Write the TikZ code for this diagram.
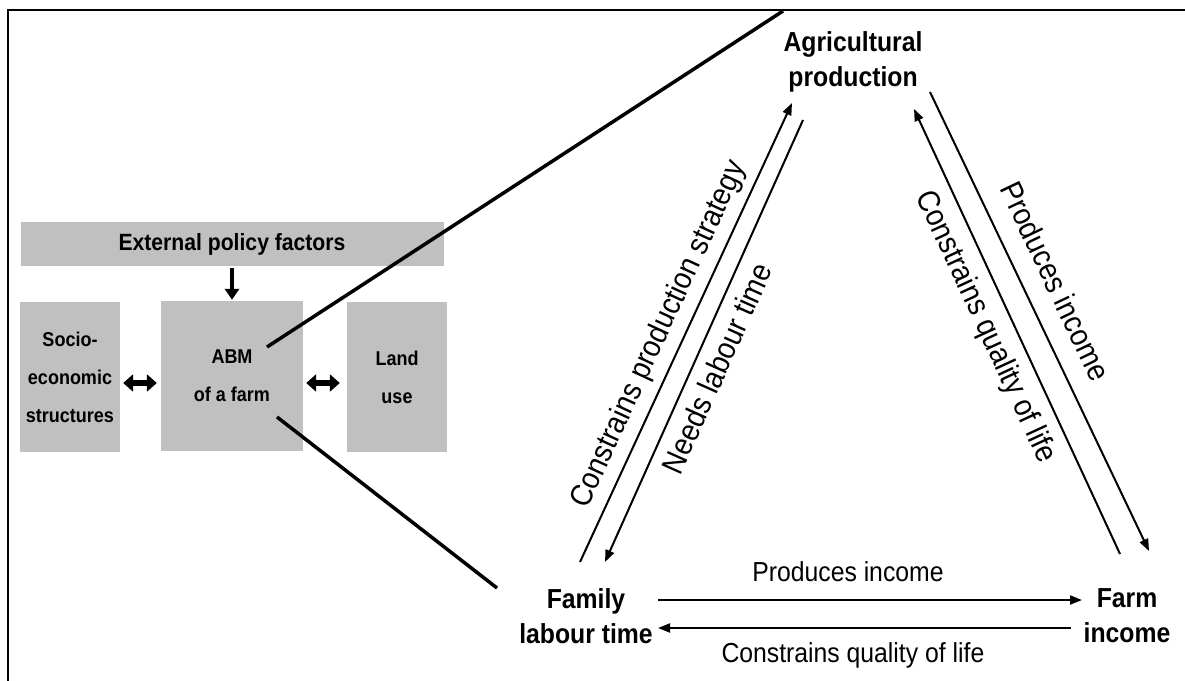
\documentclass[tikz,border=0pt]{standalone}
\usepackage{fontspec}
\setmainfont{Liberation Sans}[FakeStretch=0.9]
\usetikzlibrary{arrows.meta}
\definecolor{boxgray}{RGB}{192,192,192}
\begin{document}
\begin{tikzpicture}[x=1pt,y=-1pt,
  box/.style={fill=boxgray, draw=none, inner sep=0pt, align=center, font=\fontsize{20}{38}\selectfont\bfseries},
  tri/.style={align=center, font=\fontsize{27.5}{35}\selectfont\bfseries, inner sep=0pt},
  lab/.style={font=\fontsize{27.5}{33}\selectfont, inner sep=0pt},
  rlab/.style={font=\fontsize{31}{36}\selectfont, inner sep=0pt, sloped},
  arr/.style={line width=2pt, -{Triangle[length=12pt,width=9pt]}},
  fat/.style={line width=6.5pt, {Triangle[length=10pt,width=17pt]}-{Triangle[length=10pt,width=17pt]}},
  down/.style={line width=4pt, -{Triangle[length=11pt,width=14pt]}},
  zoomline/.style={line width=3.5pt},
  frame/.style={line width=2.5pt}
]
\useasboundingbox (0,0) rectangle (1185,680);
\fill[white] (0,0) rectangle (1185,680);
\draw[frame] (8,700) -- (8,10) -- (1200,10);

% left block
\node[box, minimum width=423pt, minimum height=44pt, font=\fontsize{23.5}{28}\selectfont\bfseries] (ext) at (232,244) {External policy factors};
\node[box, minimum width=100pt, minimum height=150pt] (soc) at (70,377) {Socio-\\economic\\structures};
\node[box, minimum width=142pt, minimum height=150pt] (abm) at (232,376) {ABM\\of a farm};
\node[box, minimum width=100pt, minimum height=150pt] (land) at (397,377) {Land\\use};

\draw[down] ([yshift=-2pt]ext.south) -- ([yshift=1pt]abm.north);
\draw[fat] ([xshift=3pt,yshift=-6pt]soc.east) -- ([xshift=-4pt,yshift=-7pt]abm.west);
\draw[fat] ([xshift=3pt,yshift=-7pt]abm.east) -- ([xshift=-7pt,yshift=-6pt]land.west);

% zoom lines
\coordinate (ztop) at (783,11);
\coordinate (zbot) at (497,588);
\draw[zoomline] ([xshift=35pt,yshift=29pt]abm.center) -- (ztop);
\draw[zoomline] ([xshift=45pt,yshift=-41pt]abm.center) -- (zbot);

% triangle nodes
\node[tri] (agri) at (853,62) {Agricultural\\production};
\node[tri] (fam) at (586,616) {Family\\labour time};
\node[tri] (farm) at (1127,616) {Farm\\income};

% arrow end points
\coordinate (a1s) at (580,562);
\coordinate (a1e) at (792,103);
\coordinate (a2s) at (803,120);
\coordinate (a2e) at (605,562);
\coordinate (a3s) at (930,92);
\coordinate (a3e) at (1149,551);
\coordinate (a4s) at (1120,554);
\coordinate (a4e) at (914,109);
\coordinate (h1s) at (658,600);
\coordinate (h1e) at (1082,600);
\coordinate (h2s) at (1071,628);
\coordinate (h2e) at (658,628);

\draw[arr] (a1s) -- node[rlab, pos=0.474, above=8pt] {Constrains production strategy} (a1e);
\draw[arr] (a2s) -- node[rlab, pos=0.541, below=10.5pt] {Needs labour time} (a2e);
\draw[arr] (a3s) -- node[rlab, pos=0.442, above=19.5pt] {Produces income} (a3e);
\draw[arr] (a4s) -- node[rlab, pos=0.535, below=11.5pt] {Constrains quality of life} (a4e);
\draw[arr] (h1s) -- node[lab, pos=0.448, above=17pt] {Produces income} (h1e);
\draw[arr] (h2s) -- node[lab, pos=0.528, below=14pt] {Constrains quality of life} (h2e);
\end{tikzpicture}
\end{document}
